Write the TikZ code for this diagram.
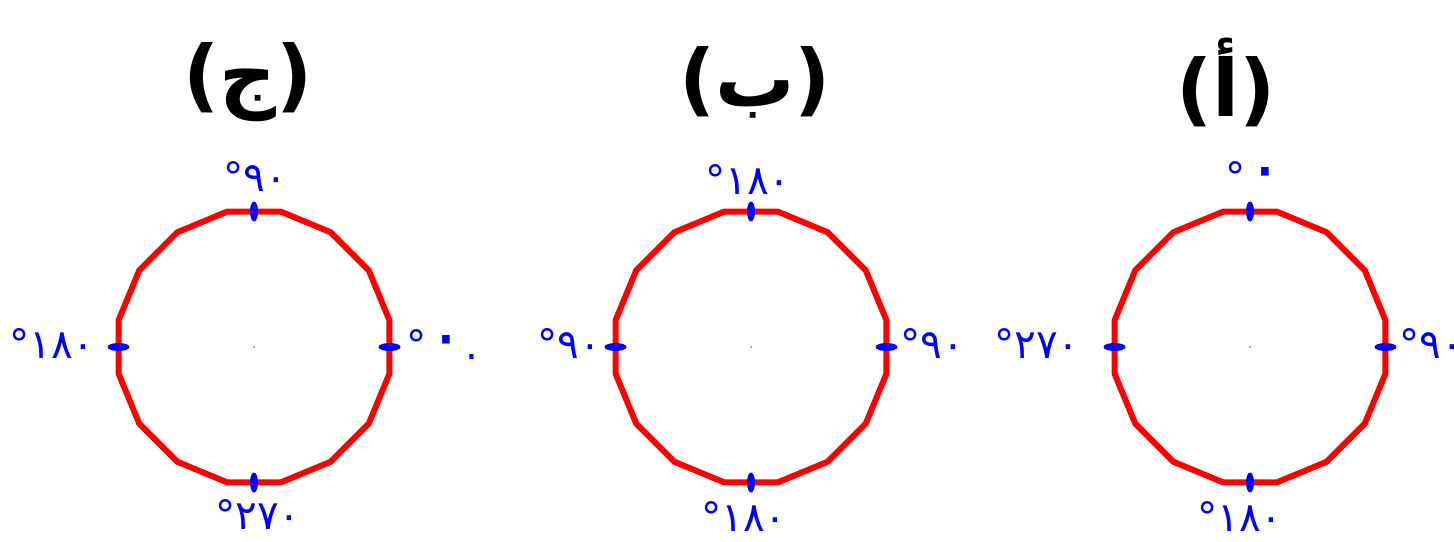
\documentclass[tikz,border=0pt]{standalone}
\usepackage{fontspec}
\setmainfont{DejaVu Sans}
\newfontfamily\arabicfont[Script=Arabic]{DejaVu Sans}
\TeXXeTstate=1
\usetikzlibrary{shapes.geometric}
\definecolor{dialred}{RGB}{255,0,0}
\definecolor{markblue}{RGB}{0,0,255}
\newcommand{\bigzero}{{\fontsize{40}{40}\selectfont ٠}}

\begin{document}
\begin{tikzpicture}[
  dial/.style={draw=dialred, line width=3.4pt, line join=round},
  hmark/.style={ellipse, fill=markblue, inner sep=0pt, minimum width=0.44cm, minimum height=0.16cm},
  vmark/.style={hmark, minimum width=0.16cm, minimum height=0.4cm},
  hub/.style={circle, fill=gray, inner sep=0pt, minimum size=0.04cm},
  deg/.style={text=markblue, font=\fontsize{23}{27}\selectfont, inner sep=0pt},
  title/.style={font=\arabicfont\bfseries\fontsize{45}{54}\selectfont, inner sep=0pt}
]
\useasboundingbox (0,0) rectangle (29.08,10.82);

% the three dials
\foreach \name/\cx in {c/5.08, b/15.02, a/25.0} {
  \begin{scope}[shift={(\cx,3.88)}]
    \draw[dial] plot[samples=16, domain=11.25:348.75] (\x:2.76) -- cycle;
    \node[hub] (\name o) at (0,0) {};
    \node[hmark] (\name r) at (2.71,0) {};
    \node[hmark] (\name l) at (-2.71,0) {};
    \node[vmark] (\name t) at (0,2.71) {};
    \node[vmark] (\name d) at (0,-2.71) {};
  \end{scope}
}

% titles
\node[title] (tc) at (4.96,9.18) {\beginR(ج)\endR};
\node[title] (tb) at (15.1,9.18) {\beginR(ب)\endR};
\node[title] (ta) at (24.52,9.18) {\beginR(أ)\endR};

% angle labels
\node[deg] (ct) at (5.10,7.28) {\beginL°٩٠\endL};
\node[deg] (cl) at (1.04,3.96) {\beginL°١٨٠\endL};
\node[deg, anchor=west] (cr) at (8.12,3.94) {\beginL°\hspace{0.02cm}\bigzero\hspace{0.0cm}.\endL};
\node[deg] (cd) at (5.16,0.54) {\beginL°٢٧٠\endL};

\node[deg] (bt) at (14.96,7.22) {\beginL°١٨٠\endL};
\node[deg] (bl) at (11.38,3.96) {\beginL°٩٠\endL};
\node[deg] (br) at (18.64,3.96) {\beginL°٩٠\endL};
\node[deg] (bd) at (14.88,0.5) {\beginL°١٨٠\endL};

\node[deg, anchor=west] (at) at (24.5,7.28) {\beginL°\hspace{0.02cm}\bigzero\endL};
\node[deg] (al) at (20.74,3.96) {\beginL°٢٧٠\endL};
\node[deg, anchor=west] (ar) at (27.98,3.96) {\beginL°٩٠\endL};
\node[deg] (ad) at (24.8,0.5) {\beginL°١٨٠\endL};
\end{tikzpicture}
\end{document}
